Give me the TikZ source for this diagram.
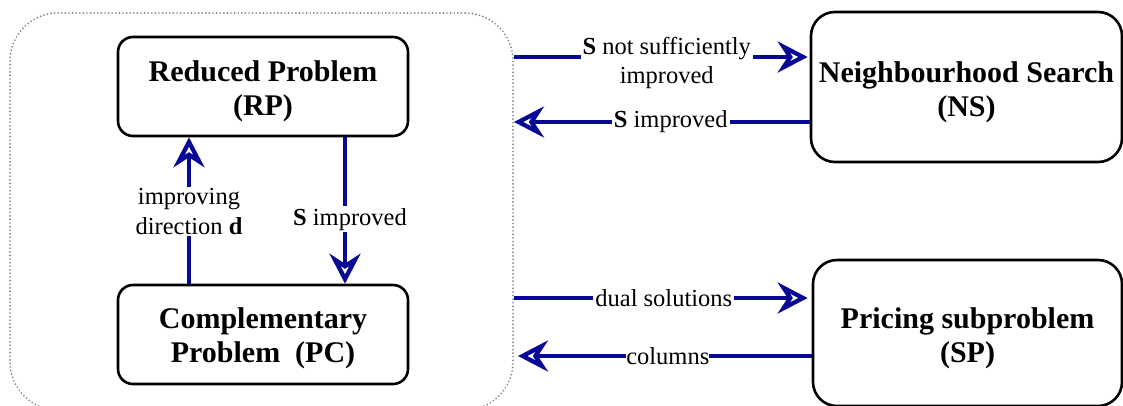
\documentclass[tikz,border=0pt]{standalone}
\usepackage{fontspec}
\setmainfont{Liberation Serif}
\usetikzlibrary{arrows.meta}
\definecolor{flow}{RGB}{8,8,150}
\definecolor{groupline}{RGB}{130,130,130}
% two centred lines, lowered a little inside their box
\newcommand\boxlines[2][11pt]{\raisebox{-#1}[0pt][0pt]{\begin{tabular}{@{}c@{}}#2\end{tabular}}}
\tikzset{
  box/.style={draw=black, line width=2.6pt, rounded corners=15pt,
    font=\fontsize{30}{34}\selectfont\bfseries, inner sep=0pt},
  bigbox/.style={box, rounded corners=24pt},
  arr/.style={draw=flow, line width=4.3pt,
    -{Stealth[open, length=30pt, width=31pt, inset=10pt]}},
  lbl/.style={fill=white, inner sep=2pt, align=center, text=black,
    font=\fontsize{24.5}{29.5}\selectfont},
  group/.style={draw=groupline, line width=1.9pt, line cap=round,
    dash pattern=on 0pt off 3.6pt, rounded corners=48pt, inner sep=0pt}
}
\begin{document}
\begin{tikzpicture}[x=1pt, y=-1pt]
  \useasboundingbox (0,0) rectangle (1123,405);
  \clip (0,0) rectangle (1123,405);

  % solver group around RP and PC
  \node[group, minimum width=503pt, minimum height=397pt] (grp) at (261.5,211.5) {};

  % inner problems
  \node[box, minimum width=290pt, minimum height=99pt] (RP) at (263,86.5)
    {\boxlines{Reduced Problem\\(RP)}};
  \node[box, minimum width=290pt, minimum height=99pt] (PC) at (263,334.5)
    {\boxlines[10.5pt]{Complementary\\Problem\ \ (PC)}};

  % external components
  \node[bigbox, minimum width=311pt, minimum height=150pt] (NS) at (966.5,87)
    {\boxlines[12pt]{Neighbourhood Search\\(NS)}};
  \node[bigbox, minimum width=309pt, minimum height=146pt] (SP) at (967.5,333)
    {\boxlines[12pt]{Pricing subproblem\\(SP)}};

  % vertical links inside the group
  \coordinate (dUp) at ([xshift=-74pt]PC.north);
  \coordinate (dTop) at ([xshift=-74pt]RP.south);
  \draw[arr] (dUp) -- node[lbl, pos=0.5, yshift=-1pt] {improving\\direction \textbf{d}} (dTop);

  \coordinate (sDown) at ([xshift=82pt]RP.south);
  \coordinate (sBot) at ([xshift=82pt]PC.north);
  \draw[arr] (sDown) -- node[lbl, pos=0.56, xshift=5pt] {\textbf{S} improved} (sBot);

  % links to the neighbourhood search
  \coordinate (nsIn) at ([yshift=30pt, xshift=-2pt]NS.west);
  \coordinate (nsOut) at ([yshift=-35pt]NS.west);
  \draw[arr] (grp.east |- nsIn) -- node[lbl, pos=0.52, yshift=-6pt]
    {\textbf{S} not sufficiently\\improved} (nsIn);
  \draw[arr] (nsOut) -- node[lbl, pos=0.47] {\textbf{S} improved} (grp.east |- nsOut);

  % links to the pricing subproblem
  \coordinate (spIn) at ([yshift=35pt, xshift=-4pt]SP.west);
  \coordinate (spOut) at ([yshift=-23pt]SP.west);
  \coordinate (spEnd) at ([xshift=4pt]grp.east |- spOut);
  \draw[arr] (grp.east |- spIn) -- node[lbl, pos=0.51] {dual solutions} (spIn);
  \draw[arr] (spOut) -- node[lbl, pos=0.49, inner sep=0pt] {columns} (spEnd);
\end{tikzpicture}
\end{document}
